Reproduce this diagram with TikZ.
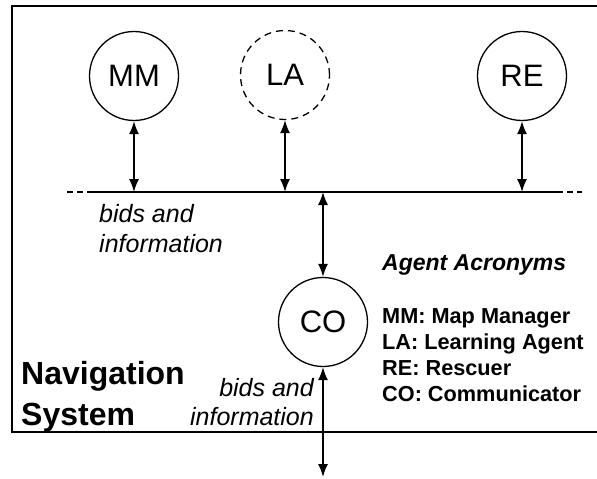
\documentclass[tikz,border=0pt]{standalone}
\usepackage{fontspec}
\setmainfont{Liberation Sans}
\usetikzlibrary{arrows.meta}
\begin{document}
\begin{tikzpicture}[x=1pt,y=-1pt,
  agent/.style={circle,draw,line width=1.3pt,minimum size=89pt,inner sep=0pt,font=\fontsize{31}{37}\selectfont},
  dashedagent/.style={agent,dash pattern=on 7pt off 5pt},
  link/.style={line width=1.5pt,{Latex[length=13pt,width=10pt]}-{Latex[length=13pt,width=10pt]}},
  busline/.style={line width=1.6pt},
  busdash/.style={line width=1.6pt,dash pattern=on 6pt off 4pt},
  frame/.style={line width=1.8pt},
  italtext/.style={inner sep=0pt,font=\itshape\fontsize{25}{30}\selectfont},
  navtext/.style={inner sep=0pt,font=\bfseries\fontsize{32}{40}\selectfont},
  acrtitle/.style={inner sep=0pt,font=\bfseries\itshape\fontsize{23}{28}\selectfont},
  acrtext/.style={inner sep=0pt,font=\bfseries\fontsize{21.7}{26}\selectfont}]
\useasboundingbox (0,0) rectangle (597,479);
% frame (open to the right)
\draw[frame] (597,6) -- (12,6) -- (12,432) -- (597,432);
% agents
\node[agent] (MM) at (134,76) {MM};
\node[dashedagent] (LA) at (285,75) {LA};
\node[agent] (RE) at (522,76) {RE};
\node[agent] (CO) at (323,322) {CO};
% bus
\coordinate (busLend) at (67,192);
\coordinate (busL) at (90,192);
\coordinate (busR) at (557,192);
\coordinate (busRend) at (582,192);
\draw[busline] (busL) -- (busR);
\draw[busdash] (busLend) -- (busL);
\draw[busdash] (busR) -- (busRend);
% links
\draw[link] (MM.south) -- (MM.south |- busL);
\draw[link] (LA.south) -- (LA.south |- busL);
\draw[link] (RE.south) -- (RE.south |- busL);
\draw[link] (CO.north |- busL) -- (CO.north);
\coordinate (out) at (323,477);
\draw[link] (CO.south) -- (out);
% labels
\node[italtext,anchor=base west] (bidsA1) at (99,222) {bids and};
\node[italtext,anchor=base west] (bidsA2) at (99,252) {information};
\node[italtext,anchor=base east] (bidsB1) at (314,396) {bids and};
\node[italtext,anchor=base east] (bidsB2) at (314,425) {information};
\node[navtext,anchor=base west] (nav1) at (21,384) {Navigation};
\node[navtext,anchor=base west] (nav2) at (21,425) {System};
\node[acrtitle,anchor=base west] (acrT) at (382,270) {Agent Acronyms};
\node[acrtext,anchor=base west] (acr1) at (382,323) {MM: Map Manager};
\node[acrtext,anchor=base west] (acr2) at (382,349) {LA: Learning Agent};
\node[acrtext,anchor=base west] (acr3) at (382,375) {RE: Rescuer};
\node[acrtext,anchor=base west] (acr4) at (382,401) {CO: Communicator};
\end{tikzpicture}
\end{document}
